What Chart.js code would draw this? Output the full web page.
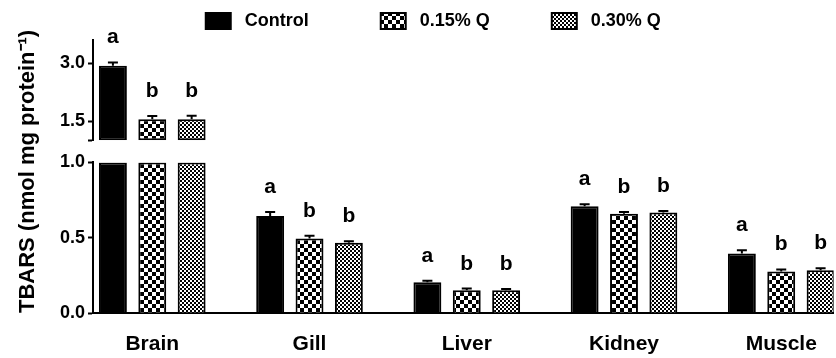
<!DOCTYPE html>
<html>
<head>
<meta charset="utf-8">
<script src="https://cdn.jsdelivr.net/npm/chart.js@4/dist/chart.umd.min.js"></script>
<style>
  html, body { margin: 0; padding: 0; background: #fff; }
  #wrap { width: 836px; height: 358px; position: relative; }
</style>
</head>
<body>
<div id="wrap"><canvas id="c"></canvas></div>
<script>
// ---- data ----
const categories = ['Brain', 'Gill', 'Liver', 'Kidney', 'Muscle'];
const seriesNames = ['Control', '0.15% Q', '0.30% Q'];
const controlValues = [2.93, 0.644, 0.204, 0.709, 0.395];
const q15Values     = [1.55, 0.495, 0.151, 0.660, 0.275];
const q30Values     = [1.55, 0.467, 0.151, 0.667, 0.284];
const controlSem = [0.09, 0.027, 0.011, 0.013, 0.022];
const q15Sem     = [0.08, 0.018, 0.011, 0.011, 0.014];
const q30Sem     = [0.09, 0.010, 0.008, 0.010, 0.013];
const controlLetters = ['a', 'a', 'a', 'a', 'a'];
const q15Letters     = ['b', 'b', 'b', 'b', 'b'];
const q30Letters     = ['b', 'b', 'b', 'b', 'b'];
const lowerTicks = [0, 0.5, 1.0];
const upperTicks = [1.0, 1.5, 3.0];
const breakValue = 1.0;   // top of lower segment / bottom of upper segment
const upperMax = 3.6;
const yTitle = 'TBARS (nmol mg protein\u207B\u00B9)';

// ---- styling ----
const FONT = '"Liberation Sans", Arial, Helvetica, sans-serif';
Chart.defaults.font.family = FONT;
Chart.defaults.color = '#000';

const canvas = document.getElementById('c');
const ctx0 = canvas.getContext('2d');
function checker(size) {
  const c = document.createElement('canvas');
  c.width = c.height = size * 2;
  const g = c.getContext('2d');
  g.fillStyle = '#fff'; g.fillRect(0, 0, size * 2, size * 2);
  g.fillStyle = '#000'; g.fillRect(0, 0, size, size); g.fillRect(size, size, size, size);
  return ctx0.createPattern(c, 'repeat');
}

const series = [
  { name: seriesNames[0], values: controlValues, sem: controlSem, letters: controlLetters, fill: '#000', stack: 's0' },
  { name: seriesNames[1], values: q15Values, sem: q15Sem, letters: q15Letters, fill: checker(4), stack: 's1' },
  { name: seriesNames[2], values: q30Values, sem: q30Sem, letters: q30Letters, fill: checker(2), stack: 's2' }
];

const lowerSets = series.map(s => ({
  label: s.name,
  data: s.values.map((v, i) => ({ x: i, y: Math.min(v, breakValue) })),
  yAxisID: 'y', xAxisID: 'x', stack: s.stack,
  backgroundColor: s.fill, borderColor: '#000', borderWidth: 2, borderSkipped: 'start'
}));
const upperSets = series.map(s => ({
  label: s.name,
  data: s.values.map((v, i) => ({ x: i, y: v > breakValue ? [breakValue, v] : null })),
  yAxisID: 'yTop', xAxisID: 'x', stack: s.stack,
  backgroundColor: s.fill, borderColor: '#000', borderWidth: 2, borderSkipped: false
}));

const legendPad = [12, 10, 12];

const annotate = {
  id: 'errAndLetters',
  afterDatasetsDraw(chart) {
    const ctx = chart.ctx;
    ctx.save();
    ctx.strokeStyle = '#000'; ctx.lineWidth = 2; ctx.fillStyle = '#000';
    ctx.font = 'bold 21px ' + FONT;
    ctx.textAlign = 'center'; ctx.textBaseline = 'alphabetic';
    series.forEach((s, si) => {
      s.values.forEach((v, i) => {
        const upper = v > breakValue;
        const meta = chart.getDatasetMeta(upper ? si + series.length : si);
        const el = meta.data[i];
        const scale = chart.scales[upper ? 'yTop' : 'y'];
        const x = el.x;
        const y0 = scale.getPixelForValue(v);
        const y1 = scale.getPixelForValue(v + s.sem[i]);
        ctx.beginPath();
        ctx.moveTo(x, y0); ctx.lineTo(x, y1);
        ctx.moveTo(x - 5, y1); ctx.lineTo(x + 5, y1);
        ctx.stroke();
        ctx.fillText(s.letters[i], x, y1 - 19);
      });
    });
    ctx.restore();
  },
  afterLayout(chart) {
    // let the axis title run the full height of the plot like the original
    chart.scales.yT.top = 0;
  }
};

const tickFont = { family: FONT, size: 18, weight: 'bold' };
const yGrid = { display: true, drawOnChartArea: false, drawTicks: true, tickLength: 5, tickWidth: 2, tickColor: '#000' };

new Chart(canvas, {
  type: 'bar',
  data: { datasets: [...lowerSets, ...upperSets] },
  plugins: [annotate],
  options: {
    responsive: true,
    maintainAspectRatio: false,
    devicePixelRatio: 1,
    animation: false,
    events: [],
    layout: { padding: 0 },
    datasets: { bar: { categoryPercentage: 0.751, barPercentage: 0.709 } },
    plugins: {
      tooltip: { enabled: false },
      legend: {
        display: true, position: 'top', align: 'center', fullSize: false,
        labels: {
          boxWidth: 25, boxHeight: 16, padding: 12, color: '#000',
          font: { family: FONT, size: 18, weight: 'bold' },
          generateLabels: (chart) => Chart.defaults.plugins.legend.labels.generateLabels(chart)
            .filter(l => l.datasetIndex < series.length)
            .map(l => Object.assign({}, l, { text: ' ' + l.text + ' '.repeat(legendPad[l.datasetIndex]) }))
        }
      }
    },
    scales: {
      x: {
        type: 'linear', position: 'bottom', min: -0.377, max: 4.333, offset: false,
        grid: { display: false, drawTicks: false },
        border: { display: true, color: '#000', width: 2 },
        ticks: { font: { family: FONT, size: 21, weight: 'bold' }, color: '#000', padding: 19,
                 autoSkip: false, maxRotation: 0, callback: (v) => categories[v] },
        afterBuildTicks: (s) => { s.ticks = categories.map((c, i) => ({ value: i })); },
        afterFit: (s) => { s.height = 45; }
      },
      yT: {
        type: 'linear', position: 'left', weight: 10,
        grid: { display: false, drawTicks: false }, border: { display: false },
        ticks: { display: false },
        title: { display: true, text: yTitle, align: 'start', color: '#000',
                 font: { family: FONT, size: 22, weight: 'bold' }, padding: { top: 15, bottom: 0 } },
        afterFit: (s) => { s.width = 40; }
      },
      yTop: {
        type: 'linear', position: 'left', stack: 'v', stackWeight: 100, weight: 3,
        min: breakValue, max: upperMax, stacked: false,
        afterBuildTicks: (s) => { s.ticks = upperTicks.map(v => ({ value: v })); },
        ticks: { font: tickFont, color: '#000', padding: 3,
                 callback: (v) => (v === breakValue ? '' : Number(v).toFixed(1)) },
        grid: yGrid,
        border: { display: true, color: '#000', width: 2 },
        afterFit: (s) => { s.width = 53; }
      },
      yGap: {
        type: 'linear', position: 'left', stack: 'v', stackWeight: 22, weight: 2, display: false
      },
      y: {
        type: 'linear', position: 'left', stack: 'v', stackWeight: 150, weight: 1,
        min: 0, max: breakValue, stacked: false,
        afterBuildTicks: (s) => { s.ticks = lowerTicks.map(v => ({ value: v })); },
        ticks: { font: tickFont, color: '#000', padding: 3,
                 callback: (v) => Number(v).toFixed(1) },
        grid: yGrid,
        border: { display: true, color: '#000', width: 2 },
        afterFit: (s) => { s.width = 53; }
      }
    }
  }
});
</script>
</body>
</html>
